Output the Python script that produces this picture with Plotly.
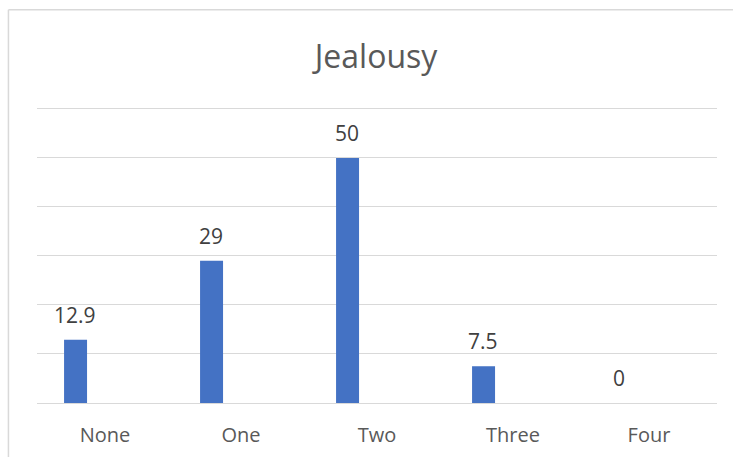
import plotly.graph_objects as go

categories = ["None", "One", "Two", "Three", "Four"]
values = [12.9, 29, 50, 7.5, 0]
value_labels = ["12.9", "29", "50", "7.5", "0"]

bar_color = "#4472C4"
grid_color = "#D9D9D9"
font_family = "Open Sans, Calibri, sans-serif"

fig = go.Figure()
fig.add_trace(go.Bar(
    x=categories,
    y=values,
    width=0.169,
    offset=-0.301,
    marker=dict(color=bar_color, line=dict(width=0)),
    hoverinfo="x+y",
))

# value labels centred over each bar
for cat, val, lab in zip(categories, values, value_labels):
    fig.add_annotation(
        x=cat, y=val, xref="x", yref="y",
        text=lab, showarrow=False,
        xshift=-30, yshift=25, yanchor="middle",
        font=dict(family=font_family, size=21, color="#404040"),
    )

# chart-area frame (top and left edges visible)
fig.add_shape(type="line", xref="paper", yref="paper",
              x0=-0.042, x1=1.05, y0=1.315, y1=1.315,
              line=dict(color=grid_color, width=1.5))
fig.add_shape(type="line", xref="paper", yref="paper",
              x0=-0.042, x1=-0.042, y0=1.315, y1=-0.3,
              line=dict(color=grid_color, width=1.5))

fig.update_layout(
    width=733, height=457,
    margin=dict(l=37, r=16, t=104, b=54, autoexpand=False),
    paper_bgcolor="white", plot_bgcolor="white",
    showlegend=False,
    title=dict(text="Jealousy", x=0.513, xanchor="center", y=0.875, yanchor="middle",
               font=dict(family=font_family, size=32, color="#595959")),
    font=dict(family=font_family),
    xaxis=dict(
        type="category", automargin=False,
        showgrid=False, zeroline=False, showline=False,
        ticks="", tickfont=dict(family=font_family, size=20, color="#595959"),
        ticklabelstandoff=18,
    ),
    yaxis=dict(
        range=[0, 61], tickvals=[0, 10, 20, 30, 40, 50, 60], automargin=False,
        showgrid=True, gridcolor=grid_color, gridwidth=1,
        zeroline=True, zerolinecolor=grid_color, zerolinewidth=1,
        showticklabels=False, ticks="", showline=False,
    ),
)

fig.write_html("out.html")
